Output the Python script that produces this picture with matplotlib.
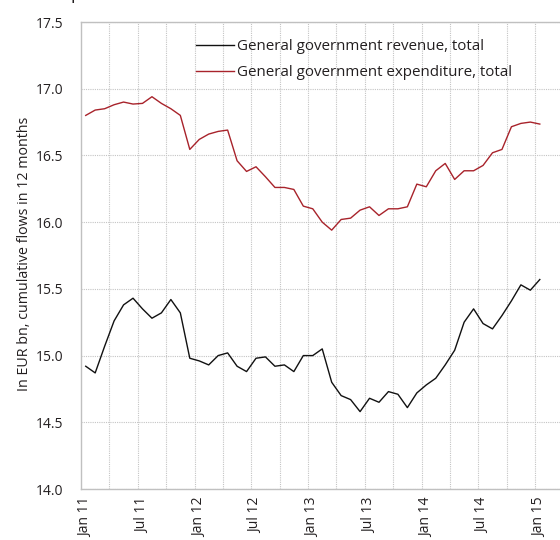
import matplotlib
matplotlib.use("Agg")
import matplotlib.pyplot as plt
import numpy as np

plt.rcParams['font.family'] = ['Open Sans', 'DejaVu Sans']

# Monthly data, Jan 2011 .. Jan 2015 (49 months)
revenue = [14.92, 14.87, 15.07, 15.26, 15.38, 15.43, 15.35, 15.28, 15.32, 15.42,
           15.32, 14.98, 14.96, 14.93, 15.00, 15.02, 14.92, 14.88, 14.98, 14.99,
           14.92, 14.93, 14.88, 15.00, 15.00, 15.05, 14.80, 14.70, 14.67, 14.58,
           14.68, 14.65, 14.73, 14.71, 14.61, 14.72, 14.78, 14.83, 14.93, 15.04,
           15.25, 15.35, 15.24, 15.20, 15.30, 15.41, 15.53, 15.49, 15.57]
expenditure = [16.80, 16.84, 16.85, 16.88, 16.90, 16.885, 16.89, 16.94, 16.89, 16.85,
               16.80, 16.545, 16.62, 16.66, 16.68, 16.69, 16.46, 16.38, 16.415, 16.34,
               16.26, 16.26, 16.245, 16.12, 16.10, 16.00, 15.94, 16.02, 16.03, 16.09,
               16.115, 16.05, 16.10, 16.10, 16.115, 16.285, 16.265, 16.385, 16.44, 16.32,
               16.385, 16.385, 16.425, 16.52, 16.545, 16.715, 16.74, 16.75, 16.735]
tick_labels = ["Jan 11", "Jul 11", "Jan 12", "Jul 12", "Jan 13", "Jul 13",
               "Jan 14", "Jul 14", "Jan 15"]
series_names = ["General government revenue, total",
                "General government expenditure, total"]
ylabel = "In EUR bn, cumulative flows in 12 months"

W, H = 560, 540
fig = plt.figure(figsize=(W / 100, H / 100), dpi=100)
left_px, top_px, bottom_px = 81, 22, 489
x_lo, x_hi = -0.5, 51.5
px_per_month = 9.46
ax = fig.add_axes([left_px / W, 1 - bottom_px / H,
                   (x_hi - x_lo) * px_per_month / W, (bottom_px - top_px) / H])

months = np.arange(len(revenue))
red = '#a8232b'
ax.plot(months, revenue, color='#111111', lw=1.0, label=series_names[0])
ax.plot(months, expenditure, color=red, lw=1.0, label=series_names[1])

ax.set_xlim(x_lo, x_hi)
ax.set_ylim(14.0, 17.5)
ax.set_yticks(np.arange(14.0, 17.51, 0.5))
ax.set_yticklabels([f"{v:.1f}" for v in np.arange(14.0, 17.51, 0.5)])
ax.set_xticks(np.arange(0, 49, 6))
ax.set_xticklabels(tick_labels, rotation=90)
ax.set_xticks(np.arange(2.5, 48, 3), minor=True)

ax.tick_params(axis='both', which='both', length=0, labelsize=10, colors='#231f20')
ax.tick_params(axis='y', pad=13)
ax.tick_params(axis='x', pad=6)

grid_kw = dict(color='#c4c4c4', linestyle=(0, (1, 1)), linewidth=0.8)
ax.grid(False)
ax.yaxis.grid(True, which='major', **grid_kw)
ax.xaxis.grid(True, which='minor', **grid_kw)
ax.set_axisbelow(True)

for s in ax.spines.values():
    s.set_color('#c0c0c0')
    s.set_linewidth(1.0)

fig.text(25 / W, 0.5 * (1 - top_px / H + 1 - bottom_px / H) + 2 / H, ylabel,
         rotation=90, ha='center', va='center', fontsize=10.3, color='#231f20')

leg = ax.legend(loc='upper left', bbox_to_anchor=(196 / W, 1 - 39 / H),
                bbox_transform=fig.transFigure, frameon=False, fontsize=10.9,
                handlelength=2.5, handletextpad=0.2, labelspacing=0.74,
                borderpad=0, borderaxespad=0)
for t in leg.get_texts():
    t.set_color('#231f20')

fig.text(70 / W, 1 + 1 / H, "p", fontsize=13, va='baseline', ha='left', color='#231f20')

fig.savefig("out.png", dpi=100)
